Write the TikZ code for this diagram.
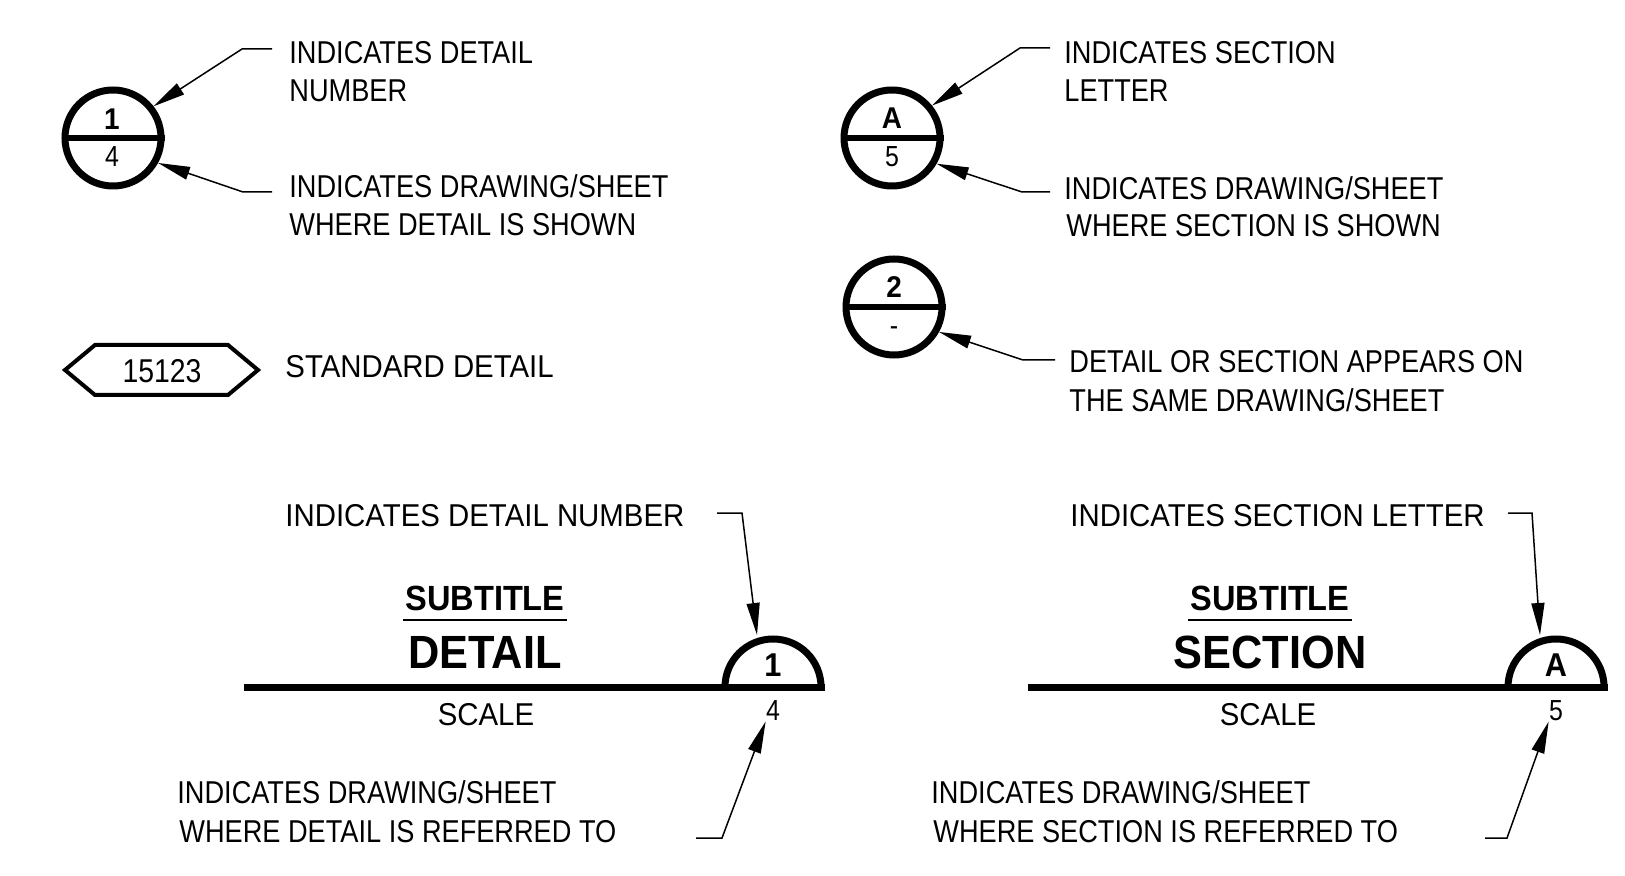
\documentclass[tikz,border=0pt]{standalone}
\usepackage{fontspec}
\setmainfont{Liberation Sans}[FakeStretch=0.86]
\newfontfamily\wfam{Liberation Sans}[FakeStretch=0.93]
\newfontfamily\bfam{Liberation Sans}[FakeStretch=0.93]
\usetikzlibrary{arrows.meta}
\tikzset{
  lbl/.style={anchor=base west, inner sep=0pt, font=\fontsize{15.8}{18}\selectfont},
  wlbl/.style={anchor=base west, inner sep=0pt, font=\wfam\fontsize{15.8}{18}\selectfont},
  ctr/.style={anchor=base, inner sep=0pt, font=\wfam\fontsize{15.8}{18}\selectfont},
  ldr/.style={line width=0.75pt, -{Triangle[length=16pt,width=6.5pt]}},
  ring/.style={circle, draw, line width=3.5pt, minimum size=48pt, inner sep=0pt},
  bar/.style={line width=3pt},
  heavy/.style={line width=3.5pt},
  topnum/.style={inner sep=0pt, font=\bfam\bfseries\fontsize{15}{17}\selectfont},
  botnum/.style={inner sep=0pt, font=\fontsize{14.5}{16}\selectfont},
  semnum/.style={inner sep=0pt, font=\bfam\bfseries\fontsize{16.5}{18}\selectfont},
  subt/.style={anchor=base, inner sep=0pt, font=\bfam\bfseries\fontsize{17.5}{20}\selectfont},
  titl/.style={anchor=base, inner sep=0pt, font=\bfam\bfseries\fontsize{23.3}{26}\selectfont},
}
\begin{document}
\begin{tikzpicture}[x=0.5pt,y=-0.5pt]
\useasboundingbox (0,0) rectangle (1625,876);

% ---------- detail circle (top left)
\node[ring] (c1) at (113,138) {};
\draw[bar] (c1.west) -- (c1.east);
\node[topnum] (c1n) at (112,119) {1};
\node[botnum] (c1s) at (112,157) {4};
\node[lbl] (t1a) at (289,64) {INDICATES DETAIL};
\node[lbl] (t1b) at (289,102) {NUMBER};
\node[lbl] (t2a) at (289,198) {INDICATES DRAWING/SHEET};
\node[lbl] (t2b) at (289,236) {WHERE DETAIL IS SHOWN};
\coordinate (a1) at (272,49);
\coordinate (a2) at (272,192);
\draw[ldr] (a1) -- (242,49) -- (c1.38);
\draw[ldr] (a2) -- (243,192) -- (c1.-29);

% ---------- section circle (top right)
\node[ring] (cA) at (892,138) {};
\draw[bar] (cA.west) -- (cA.east);
\node[topnum] (cAn) at (892,118) {A};
\node[botnum] (cAs) at (892,157) {5};
\node[lbl] (t3a) at (1064,64) {INDICATES SECTION};
\node[lbl] (t3b) at (1064,102) {LETTER};
\node[lbl] (t4a) at (1064,200) {INDICATES DRAWING/SHEET};
\node[lbl] (t4b) at (1066,237) {WHERE SECTION IS SHOWN};
\coordinate (a3) at (1050,48);
\coordinate (a4) at (1050,192);
\draw[ldr] (a3) -- (1020,48) -- (cA.39);
\draw[ldr] (a4) -- (1022,192) -- (cA.-30);

% ---------- same sheet circle
\node[ring] (c2) at (894,307) {};
\draw[bar] (c2.west) -- (c2.east);
\node[topnum] (c2n) at (894,287) {2};
\node[botnum] (c2s) at (894,331) {-};
\node[lbl] (t5a) at (1069,373) {DETAIL OR SECTION APPEARS ON};
\node[lbl] (t5b) at (1069,412) {THE SAME DRAWING/SHEET};
\coordinate (a5) at (1055,360);
\draw[ldr] (a5) -- (1023,360) -- (c2.-29);

% ---------- standard detail
\draw[line width=2pt, line join=miter] (65,370) -- (95,345) -- (228,345) -- (258,370) -- (228,395) -- (95,395) -- cycle;
\node[inner sep=0pt, font=\fontsize{16.5}{18}\selectfont] (sd) at (162,371) {15123};
\node[wlbl] (t6) at (285,378) {STANDARD DETAIL};

% ---------- detail title (bottom left)
\draw[heavy] (244,687) -- (824.5,687);
\draw[heavy] (725,687) arc[start angle=180, end angle=0, radius=24pt];
\node[semnum] (s1n) at (773,665) {1};
\node[botnum] (s1s) at (773,711) {4};
\node[subt] (st1) at (485,610) {SUBTITLE};
\draw[line width=1pt] ([xshift=-1pt,yshift=-4.5pt]st1.south west) -- ([xshift=1pt,yshift=-4.5pt]st1.south east);
\node[titl] (tt1) at (485,668) {DETAIL};
\node[ctr] (sc1) at (486,725) {SCALE};
\node[wlbl] (t7) at (285,526) {INDICATES DETAIL NUMBER};
\node[lbl] (t8a) at (177,803) {INDICATES DRAWING/SHEET};
\node[lbl] (t8b) at (179,842) {WHERE DETAIL IS REFERRED TO};
\coordinate (a6) at (717,513);
\coordinate (s1tip) at (757,635);
\coordinate (a7) at (696,838);
\draw[ldr] (a6) -- (742,513) -- (s1tip);
\draw[ldr] (a7) -- (722,838) -- (s1s.south west);

% ---------- section title (bottom right)
\draw[heavy] (1028,687) -- (1607.5,687);
\draw[heavy] (1508,687) arc[start angle=180, end angle=0, radius=24pt];
\node[semnum] (s2n) at (1556,665) {A};
\node[botnum] (s2s) at (1556,711) {5};
\node[subt] (st2) at (1270,610) {SUBTITLE};
\draw[line width=1pt] ([xshift=-1pt,yshift=-4.5pt]st2.south west) -- ([xshift=1pt,yshift=-4.5pt]st2.south east);
\node[titl] (tt2) at (1270,668) {SECTION};
\node[ctr] (sc2) at (1268,725) {SCALE};
\node[wlbl] (t9) at (1070,526) {INDICATES SECTION LETTER};
\node[lbl] (t10a) at (931,803) {INDICATES DRAWING/SHEET};
\node[lbl] (t10b) at (933,842) {WHERE SECTION IS REFERRED TO};
\coordinate (a8) at (1508,513);
\coordinate (s2tip) at (1540,635);
\coordinate (a9) at (1485,838);
\draw[ldr] (a8) -- (1532,513) -- (s2tip);
\draw[ldr] (a9) -- (1507,838) -- (s2s.south west);
\end{tikzpicture}
\end{document}
